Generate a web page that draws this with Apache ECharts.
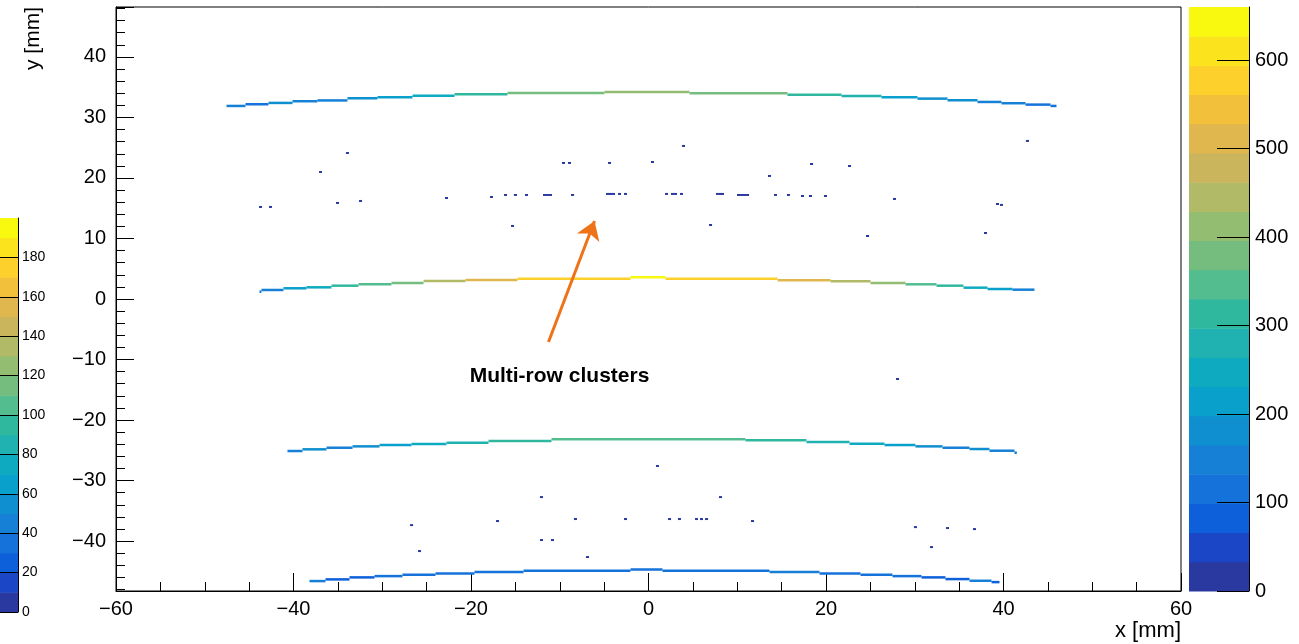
<!DOCTYPE html>
<html><head><meta charset="utf-8">
<script src="https://cdn.jsdelivr.net/npm/echarts@6/dist/echarts.min.js"></script>
<style>html,body{margin:0;padding:0;background:#fff}#c{width:1299px;height:644px}</style>
</head><body><div id="c"></div>
<script>
// colour palette (20 contour levels, bottom -> top)
const palette = ['#2a399f','#1b46c6','#0d60da','#1472da','#1580d6','#0f8fcf','#09a0cb','#0eaac0','#20b2b0','#30b89f',
                 '#53bd90','#74bd7f','#93bd71','#b0ba67','#cab55d','#e0b64e','#f3c03b','#fdd02b','#fbe41e','#f9f80f'];
const zMaxRight = 660;   // main colour scale
const zMaxLeft = 200;    // inset colour scale
// arcs: [xStart, xEnd, y, counts]
const arcTop = [
 [-47.55,-45.41,31.90,150],[-45.41,-42.82,32.18,130],[-42.82,-40.11,32.40,170],[-40.11,-37.30,32.68,150],
 [-37.30,-33.92,32.81,160],[-33.92,-30.54,33.17,180],[-30.54,-26.59,33.34,220],[-26.59,-21.86,33.60,260],
 [-21.86,-15.89,33.84,300],[-15.89,-4.96,34.05,380],[-4.96,4.62,34.21,420],[4.62,15.66,34.00,380],
 [15.66,21.75,33.77,320],[21.75,26.25,33.55,280],[26.25,30.31,33.34,220],[30.31,33.69,33.11,190],
 [33.69,37.07,32.84,170],[37.07,39.77,32.56,160],[39.77,42.48,32.35,140],[42.48,45.30,32.12,130],[45.30,45.97,31.90,120]
];
const arcMiddle = [
 [-43.83,-43.61,1.21,100],[-43.61,-41.13,1.49,150],[-41.13,-38.54,1.77,230],[-38.54,-35.72,1.93,250],
 [-35.72,-32.68,2.20,300],[-32.68,-28.96,2.43,330],[-28.96,-25.35,2.64,380],[-25.35,-20.62,2.98,460],
 [-20.62,-14.76,3.14,520],[-14.76,-2.03,3.36,590],[-2.03,1.92,3.59,640],[1.92,14.54,3.36,590],
 [14.54,20.51,3.09,520],[20.51,25.01,2.93,450],[25.01,28.96,2.64,400],[28.96,32.45,2.43,330],
 [32.45,35.49,2.20,300],[35.49,38.20,1.87,250],[38.20,41.01,1.65,220],[41.01,43.49,1.54,160]
];
const arcLower = [
 [-40.68,-38.99,-25.12,150],[-38.99,-36.28,-24.84,180],[-36.28,-33.35,-24.58,160],[-33.35,-30.31,-24.35,190],
 [-30.31,-26.70,-24.13,200],[-26.70,-22.76,-23.97,260],[-22.76,-18.03,-23.75,290],[-18.03,-10.93,-23.47,320],
 [-10.93,10.93,-23.19,340],[10.93,17.80,-23.36,320],[17.80,22.65,-23.64,280],[22.65,26.59,-23.92,240],
 [26.59,30.08,-24.13,200],[30.08,33.13,-24.35,170],[33.13,36.17,-24.58,160],[36.17,38.42,-24.79,170],
 [38.42,41.24,-25.07,140],[41.24,41.50,-25.40,100]
];
const arcBottom = [
 [-38.20,-36.39,-46.61,140],[-36.39,-33.69,-46.33,80],[-33.69,-30.87,-46.00,90],[-30.87,-27.72,-45.79,110],
 [-27.72,-24.00,-45.57,100],[-24.00,-19.61,-45.34,120],[-19.61,-14.08,-45.12,130],[-14.08,-2.03,-44.91,130],
 [-2.03,1.58,-44.68,110],[1.58,13.63,-44.91,130],[13.63,19.27,-45.12,140],[19.27,23.89,-45.34,110],
 [23.89,27.49,-45.57,100],[27.49,30.76,-45.79,120],[30.76,33.46,-46.00,80],[33.46,36.17,-46.28,90],
 [36.17,38.65,-46.56,140],[38.65,39.55,-46.78,90]
];
// isolated / multi-row cluster hits: [x, y, counts]
const clusters = [
 [-33.92,24.13,10],[-36.96,20.99,10],[3.94,25.29,10],[-9.58,22.48,10],[-8.90,22.48,10],[-4.39,22.48,10],[0.45,22.64,8],
 [-43.72,15.21,10],[-42.59,15.21,10],[-35.04,15.87,8],[-32.45,16.20,10],[-22.76,16.69,10],[-17.69,16.86,10],
 [-16.11,17.19,10],[-14.99,17.19,10],[-13.75,17.19,10],[-11.72,17.19,10],[-11.38,17.19,10],[-11.04,17.19,10],
 [-8.56,17.19,10],[-4.62,17.36,10],[-4.28,17.36,10],[-3.94,17.36,10],[-3.27,17.36,10],[-2.59,17.36,10],
 [2.03,17.36,10],[2.70,17.36,10],[3.04,17.36,10],[3.72,17.36,10],[7.77,17.36,10],[8.11,17.36,10],[8.34,17.36,10],
 [10.14,17.19,10],[10.48,17.19,10],[10.82,17.19,10],[11.16,17.19,10],[-15.32,12.07,10],[6.99,12.23,10],
 [13.63,20.33,10],[18.37,22.31,10],[22.65,21.98,10],[14.31,17.19,10],[15.77,17.19,10],[17.35,17.02,10],
 [18.25,17.02,10],[19.94,17.02,10],[27.72,16.53,10],[39.32,15.70,10],[39.77,15.54,10],[42.70,26.12,10],
 [24.68,10.41,10],[37.97,10.91,10],[28.06,-13.22,10],[1.01,-27.60,8],[-12.06,-32.73,10],[8.11,-32.73,10],
 [-26.70,-37.36,10],[-17.01,-36.69,10],[-8.23,-36.36,10],[-2.59,-36.36,10],[2.37,-36.36,10],[3.49,-36.36,10],
 [5.41,-36.36,10],[5.97,-36.36,10],[6.54,-36.36,10],[11.72,-36.69,10],[-12.06,-39.83,8],[-10.82,-39.83,8],
 [-25.80,-41.65,10],[-6.87,-42.64,10],[30.08,-37.69,8],[33.69,-37.85,10],[36.73,-38.02,10],[31.89,-40.99,10]
];
const arrowFrom = [-11.27, -7.11];
const arrowTo = [-6.08, 12.89];
const noteText = 'Multi-row clusters';
const notePos = [-10.03, -12.73];

const FONT = 'Liberation Sans, Arial, Helvetica, sans-serif';
const binW = 0.34;
function colorOf(v, zmax) {
  const i = Math.min(palette.length - 1, Math.max(0, Math.floor(v / (zmax / palette.length))));
  return palette[i];
}
const minus = v => String(v).replace('-', '\u2212');
const segments = arcTop.concat(arcMiddle, arcLower, arcBottom);

function renderSeg(params, api) {
  const y = api.value(2);
  const p1 = api.coord([api.value(0), y]);
  const p2 = api.coord([api.value(1), y]);
  return {type: 'rect', shape: {x: p1[0], y: p1[1] - 1.25, width: Math.max(1, p2[0] - p1[0]), height: 2.5},
          style: {fill: colorOf(api.value(3), zMaxRight)}};
}
function renderDot(params, api) {
  const p = api.coord([api.value(0), api.value(1)]);
  const w = api.size([binW, 0])[0];
  return {type: 'rect', shape: {x: p[0] - w / 2, y: p[1] - 1, width: w, height: 2},
          style: {fill: colorOf(api.value(2), zMaxRight)}};
}
function bandRenderer(zmax) {
  return function (params, api) {
    const i = api.value(0);
    const step = zmax / palette.length;
    const p1 = api.coord([0, i * step]);
    const p2 = api.coord([1, (i + 1) * step]);
    return {type: 'rect', shape: {x: p1[0], y: p2[1], width: p2[0] - p1[0], height: p1[1] - p2[1] + 0.5},
            style: {fill: palette[i]}};
  };
}
const bands = palette.map((c, i) => [i]);

const chart = echarts.init(document.getElementById('c'), null, {renderer: 'canvas'});
chart.setOption({
  animation: false,
  backgroundColor: '#fff',
  textStyle: {fontFamily: FONT},
  grid: [
    {left: 116, top: 7, width: 1065, height: 584, show: true, borderColor: '#000', borderWidth: 1, backgroundColor: 'transparent'},
    {left: 1189, top: 7, width: 60, height: 584},
    {left: 0, top: 218, width: 18, height: 394}
  ],
  xAxis: [
    {gridIndex: 0, type: 'value', min: -60, max: 60, interval: 20,
     axisLine: {onZero: false, lineStyle: {color: '#000', width: 1}},
     axisTick: {inside: true, length: 18, lineStyle: {color: '#000'}},
     minorTick: {show: true, splitNumber: 4, length: 9, lineStyle: {color: '#000'}},
     splitLine: {show: false},
     axisLabel: {fontSize: 20, color: '#000', margin: 8, fontFamily: FONT, formatter: minus},
     name: 'x [mm]', nameLocation: 'end', nameGap: 0,
     nameTextStyle: {fontSize: 22, color: '#000', fontFamily: FONT, align: 'right', verticalAlign: 'top', padding: [29, 0, 0, 0]}},
    {gridIndex: 1, type: 'value', min: 0, max: 1, show: false},
    {gridIndex: 2, type: 'value', min: 0, max: 1, show: false}
  ],
  yAxis: [
    {gridIndex: 0, type: 'value', min: -48.25, max: 48.25, splitNumber: 10,
     axisLine: {onZero: false, lineStyle: {color: '#000', width: 1}},
     axisTick: {inside: true, length: 18, lineStyle: {color: '#000'}},
     minorTick: {show: true, splitNumber: 5, length: 9, lineStyle: {color: '#000'}},
     splitLine: {show: false},
     axisLabel: {fontSize: 20, color: '#000', margin: 10, fontFamily: FONT, formatter: minus, showMinLabel: false, showMaxLabel: false}},
    {gridIndex: 1, type: 'value', min: 0, max: zMaxRight, interval: 100, position: 'right', z: 10,
     axisLine: {show: true, onZero: false, lineStyle: {color: '#000', width: 1}},
     axisTick: {show: true, inside: true, length: 32, lineStyle: {color: '#000'}},
     splitLine: {show: false},
     axisLabel: {fontSize: 20, color: '#000', margin: 6, fontFamily: FONT, showMaxLabel: false}},
    {gridIndex: 2, type: 'value', min: 0, max: zMaxLeft, interval: 20, position: 'right', z: 10,
     axisLine: {show: true, onZero: false, lineStyle: {color: '#000', width: 1}},
     axisTick: {show: true, inside: true, length: 18, lineStyle: {color: '#000'}},
     splitLine: {show: false},
     axisLabel: {fontSize: 14, color: '#000', margin: 4, fontFamily: FONT, showMaxLabel: false}}
  ],
  series: [
    {type: 'custom', xAxisIndex: 0, yAxisIndex: 0, data: segments, renderItem: renderSeg, silent: true, clip: true},
    {type: 'custom', xAxisIndex: 0, yAxisIndex: 0, data: clusters, renderItem: renderDot, silent: true, clip: true},
    {type: 'lines', coordinateSystem: 'cartesian2d', xAxisIndex: 0, yAxisIndex: 0, silent: true,
     symbol: ['none', 'arrow'], symbolSize: [12, 18],
     lineStyle: {color: '#ee7218', width: 3, opacity: 1},
     data: [{coords: [arrowFrom, arrowTo]}]},
    {type: 'scatter', xAxisIndex: 0, yAxisIndex: 0, symbolSize: 0, silent: true,
     data: [notePos], itemStyle: {opacity: 1},
     label: {show: true, position: 'inside', formatter: noteText, fontSize: 21, fontWeight: 'bold', color: '#000', opacity: 1, fontFamily: FONT}},
    {type: 'custom', xAxisIndex: 1, yAxisIndex: 1, data: bands, renderItem: bandRenderer(zMaxRight), silent: true},
    {type: 'custom', xAxisIndex: 2, yAxisIndex: 2, data: bands, renderItem: bandRenderer(zMaxLeft), silent: true}
  ],
  graphic: [
    {type: 'text', x: 33, y: 7, rotation: Math.PI / 2,
     style: {text: 'y [mm]', font: '21px ' + FONT, fill: '#000', align: 'right', verticalAlign: 'middle'}}
  ]
});
</script>
</body></html>
